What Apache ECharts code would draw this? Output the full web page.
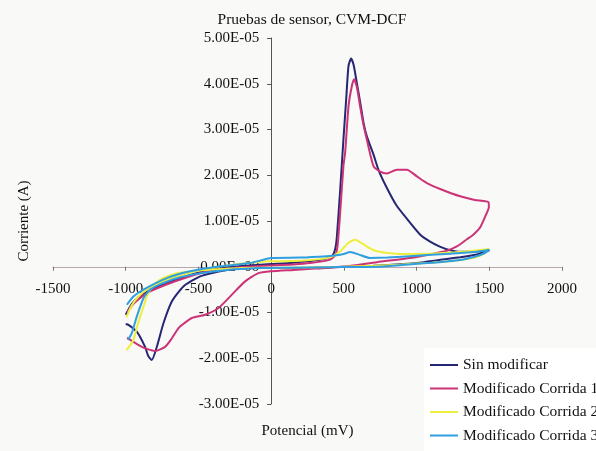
<!DOCTYPE html>
<html><head><meta charset="utf-8">
<script src="https://cdn.jsdelivr.net/npm/echarts@6/dist/echarts.min.js"></script>
<style>html,body{margin:0;padding:0;background:#f9f9f7}#c{width:596px;height:451px}</style>
</head><body><div id="c"></div>
<script>
const chartTitle = 'Pruebas de sensor, CVM-DCF';
const xName = 'Potencial (mV)';
const yName = 'Corriente (A)';
const seriesNames = ['Sin modificar', 'Modificado Corrida 1', 'Modificado Corrida 2', 'Modificado Corrida 3'];
const colors = ['#262673', '#cc3377', '#eeee3c', '#2f9fe0'];

// [potential mV, current A], sweep order
const sinModificar = [
  [-1000,-1.05e-5],[-960,-0.82e-5],[-912,-0.67e-5],[-844,-0.53e-5],[-729,-0.36e-5],[-568,-0.19e-5],[-454,-0.09e-5],
  [-300,-0.01e-5],[-150,0.03e-5],[0,0.06e-5],[150,0.09e-5],[337,0.15e-5],[417,0.23e-5],[440,0.38e-5],[452,0.66e-5],
  [475,1.69e-5],[497,2.78e-5],[516,3.66e-5],[532,4.39e-5],[550,4.55e-5],[568,4.4e-5],[589,4.02e-5],[612,3.6e-5],
  [635,3.15e-5],[658,2.85e-5],[704,2.45e-5],[740,2.1e-5],[796,1.72e-5],[860,1.35e-5],[933,1.05e-5],[1025,0.7e-5],
  [1093,0.55e-5],[1160,0.44e-5],[1231,0.36e-5],[1286,0.33e-5],[1400,0.33e-5],[1500,0.36e-5],
  [1450,0.3e-5],[1415,0.27e-5],[1300,0.21e-5],[1208,0.17e-5],[1050,0.1e-5],[910,0.06e-5],[700,0.02e-5],[497,0.0],
  [300,-0.02e-5],[100,-0.03e-5],[-110,-0.03e-5],[-305,-0.07e-5],[-488,-0.21e-5],[-603,-0.43e-5],[-683,-0.76e-5],
  [-740,-1.23e-5],[-786,-1.75e-5],[-821,-2.04e-5],[-845,-1.95e-5],[-867,-1.75e-5],[-924,-1.42e-5],[-981,-1.27e-5],[-1000,-1.25e-5]
];
const corrida1 = [
  [-990,-1.0e-5],[-950,-0.82e-5],[-900,-0.68e-5],[-844,-0.56e-5],[-729,-0.4e-5],[-568,-0.22e-5],[-454,-0.12e-5],
  [-300,-0.04e-5],[-150,0.0],[0,0.03e-5],[150,0.05e-5],[268,0.08e-5],[400,0.15e-5],[440,0.25e-5],[456,0.44e-5],
  [475,1.2e-5],[497,2.2e-5],[509,2.5e-5],[532,3.51e-5],[555,3.95e-5],[570,4.1e-5],[590,3.92e-5],[612,3.5e-5],
  [635,3.1e-5],[658,2.78e-5],[704,2.2e-5],[750,2.08e-5],[796,2.04e-5],[864,2.12e-5],[933,2.12e-5],[1000,1.98e-5],
  [1071,1.83e-5],[1162,1.7e-5],[1300,1.54e-5],[1400,1.46e-5],[1495,1.41e-5],
  [1497,1.3e-5],[1472,1.1e-5],[1437,0.86e-5],[1390,0.7e-5],[1346,0.6e-5],[1280,0.45e-5],[1208,0.35e-5],[1080,0.26e-5],
  [956,0.19e-5],[727,0.1e-5],[497,0.0],[300,-0.04e-5],[153,-0.07e-5],[0,-0.1e-5],[-87,-0.14e-5],[-179,-0.32e-5],
  [-270,-0.61e-5],[-362,-0.9e-5],[-454,-1.05e-5],[-545,-1.12e-5],[-600,-1.24e-5],[-637,-1.34e-5],[-690,-1.6e-5],
  [-729,-1.75e-5],[-798,-1.84e-5],[-850,-1.8e-5],[-889,-1.75e-5],[-958,-1.62e-5],[-990,-1.55e-5]
];
const corrida2 = [
  [-995,-1.1e-5],[-960,-0.85e-5],[-912,-0.65e-5],[-844,-0.48e-5],[-729,-0.3e-5],[-568,-0.14e-5],[-454,-0.05e-5],
  [-300,0.03e-5],[-100,0.1e-5],[0,0.12e-5],[200,0.13e-5],[400,0.2e-5],[475,0.34e-5],[530,0.52e-5],[578,0.59e-5],
  [620,0.52e-5],[680,0.4e-5],[727,0.34e-5],[887,0.28e-5],[1000,0.28e-5],[1185,0.3e-5],[1350,0.34e-5],[1500,0.39e-5],
  [1470,0.3e-5],[1400,0.2e-5],[1300,0.15e-5],[1100,0.09e-5],[900,0.05e-5],[700,0.02e-5],[500,0.0],[300,-0.01e-5],
  [100,-0.02e-5],[0,-0.02e-5],[-200,-0.03e-5],[-400,-0.06e-5],[-550,-0.1e-5],[-648,-0.14e-5],[-763,-0.28e-5],
  [-820,-0.45e-5],[-855,-0.65e-5],[-880,-0.9e-5],[-901,-1.09e-5],[-925,-1.35e-5],[-947,-1.6e-5],[-970,-1.72e-5],[-995,-1.82e-5]
];
const corrida3 = [
  [-992,-0.83e-5],[-947,-0.65e-5],[-878,-0.5e-5],[-717,-0.25e-5],[-557,-0.1e-5],[-373,0.0],[-144,0.08e-5],
  [0,0.19e-5],[200,0.2e-5],[383,0.23e-5],[450,0.25e-5],[500,0.28e-5],[543,0.32e-5],[600,0.27e-5],[681,0.19e-5],
  [800,0.2e-5],[1000,0.24e-5],[1200,0.28e-5],[1400,0.32e-5],[1500,0.37e-5],
  [1470,0.3e-5],[1400,0.22e-5],[1300,0.15e-5],[1071,0.08e-5],[900,0.04e-5],[727,0.0],[383,-0.01e-5],[100,-0.02e-5],
  [-76,-0.03e-5],[-300,-0.07e-5],[-500,-0.15e-5],[-650,-0.25e-5],[-760,-0.38e-5],[-832,-0.5e-5],[-878,-0.69e-5],
  [-924,-1.09e-5],[-958,-1.45e-5],[-985,-1.6e-5]
];
const seriesData = [sinModificar, corrida1, corrida2, corrida3];

const xMin = -1500, xMax = 2000, xStep = 500;
const yMin = -3e-5, yMax = 5e-5, yStep = 1e-5;

const font = 'Liberation Serif';
const gridL = 53, gridR = 34, gridT = 38, gridB = 47, W = 596, H = 451;
const plotW = W - gridL - gridR, plotH = H - gridT - gridB;
// place each axis where the other axis is zero
const yAxisOffset = -plotW * (0 - xMin) / (xMax - xMin);
const xAxisOffset = -plotH * (0 - yMin) / (yMax - yMin);

const chart = echarts.init(document.getElementById('c'), null, {renderer: 'canvas'});
chart.setOption({
  animation: false,
  backgroundColor: '#f9f9f7',
  title: {
    text: chartTitle, left: 307, top: 7, textAlign: 'center',
    textStyle: {fontFamily: font, fontSize: 15.5, fontWeight: 'normal', color: '#111'}
  },
  graphic: [{type: 'rect', left: 424, top: 348, shape: {width: 172, height: 103}, style: {fill: '#ffffff'}, z: -1}],
  legend: {
    orient: 'vertical', left: 430, top: 357, padding: 0,
    itemWidth: 28, itemHeight: 2, itemGap: 7.5, icon: 'rect',
    textStyle: {fontFamily: font, fontSize: 15.5, lineHeight: 16, color: '#111'},
    data: seriesNames
  },
  grid: {left: gridL, right: gridR, top: gridT, bottom: gridB, containLabel: false, outerBoundsMode: 'none'},
  xAxis: {
    type: 'value', min: xMin, max: xMax, interval: xStep, position: 'bottom', offset: xAxisOffset,
    name: xName, nameLocation: 'middle', nameGap: 157,
    nameTextStyle: {fontFamily: font, fontSize: 15, color: '#111'},
    axisLine: {onZero: false, lineStyle: {color: '#b8a8ad', width: 1}},
    axisTick: {show: true, length: 4, lineStyle: {color: '#777'}},
    axisLabel: {margin: 15, fontFamily: font, fontSize: 15, color: '#111', formatter: v => String(Math.round(v))},
    splitLine: {show: false}
  },
  yAxis: {
    type: 'value', min: yMin, max: yMax, interval: yStep, position: 'left', offset: yAxisOffset,
    name: yName, nameLocation: 'middle', nameGap: 240, nameRotate: 90,
    nameTextStyle: {fontFamily: font, fontSize: 15, color: '#111'},
    axisLine: {onZero: false, lineStyle: {color: '#555', width: 1}},
    axisTick: {show: true, length: 4, lineStyle: {color: '#555'}},
    axisLabel: {
      margin: 12, fontFamily: font, fontSize: 15, color: '#111',
      formatter: function (v) {
        const n = Math.round(v * 1e7) / 100;
        if (Math.abs(n) < 1e-9) return '0.00E+00';
        return n.toFixed(2) + 'E-05';
      }
    },
    splitLine: {show: false}
  },
  series: seriesData.map((d, i) => ({
    name: seriesNames[i], type: 'line', data: d, showSymbol: false, symbol: 'none',
    smooth: 0.2, color: colors[i], lineStyle: {width: 2, color: colors[i]}
  }))
});
</script></body></html>
